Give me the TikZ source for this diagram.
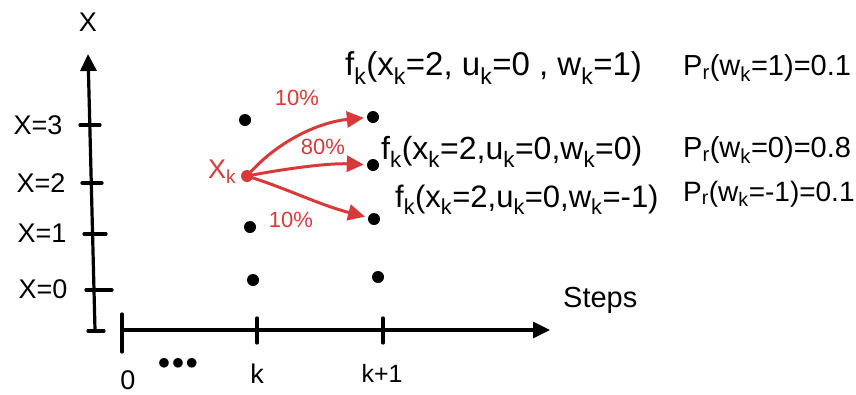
\documentclass[tikz,border=0pt]{standalone}
\usepackage{fontspec}
\setmainfont{Liberation Sans}
\usetikzlibrary{arrows.meta}
\definecolor{hred}{HTML}{D83A3A}
\tikzset{
  pen/.style={line width=3.2pt, line cap=round, black},
  redpen/.style={line width=3pt, line cap=round, hred},
  dotnode/.style={circle, fill=black, inner sep=0pt, minimum size=12pt},
  lbl/.style={font=\fontsize{27}{30}\selectfont, inner sep=1pt},
  pct/.style={font=\fontsize{22}{24}\selectfont, inner sep=1pt, text=hred},
  formula/.style={font=\fontsize{31}{34}\selectfont, inner sep=1pt, anchor=west},
  prob/.style={font=\fontsize{29}{32}\selectfont, inner sep=1pt, anchor=west},
  axtip/.style={-{Triangle[length=17pt,width=16pt]}},
  redtip/.style={-{Triangle[length=17pt,width=16pt]}}
}
\newcommand{\sbk}{\textsubscript{k}}
\begin{document}
\begin{tikzpicture}[x=1pt,y=-1pt]
\useasboundingbox (0,0) rectangle (856,394);
% axes
\coordinate (yb) at (95,330);
\coordinate (yt) at (88,54);
\coordinate (xl) at (122,330);
\coordinate (xr) at (550,330);
\draw[pen, axtip] (yb) -- (yt);
\draw[pen, axtip] (xl) -- (xr);
\node[lbl] (xlab) at (88,22) {X};
\node[lbl, font=\fontsize{29}{32}\selectfont, anchor=west] (steps) at (562,300) {Steps};
% y ticks
\coordinate (t3a) at (80,125); \coordinate (t3b) at (100,125);
\coordinate (t2a) at (82,183); \coordinate (t2b) at (102,183);
\coordinate (t1a) at (84,234); \coordinate (t1b) at (106,234);
\coordinate (t0a) at (86,290); \coordinate (t0b) at (112,290);
\coordinate (tba) at (88,331); \coordinate (tbb) at (104,331);
\draw[pen] (t3a) -- (t3b);
\draw[pen] (t2a) -- (t2b);
\draw[pen] (t1a) -- (t1b);
\draw[pen] (t0a) -- (t0b);
\draw[pen] (tba) -- (tbb);
\node[lbl] (l3) at (38,125) {X=3};
\node[lbl] (l2) at (41,183) {X=2};
\node[lbl] (l1) at (42,233) {X=1};
\node[lbl] (l0) at (43,289) {X=0};
% x ticks
\coordinate (x0a) at (122,314); \coordinate (x0b) at (122,352);
\coordinate (xka) at (257,318); \coordinate (xkb) at (257,343);
\coordinate (xk1a) at (383,318); \coordinate (xk1b) at (383,343);
\draw[pen] (x0a) -- (x0b);
\draw[pen] (xka) -- (xkb);
\draw[pen] (xk1a) -- (xk1b);
\node[lbl] (n0) at (128,380) {0};
\node[lbl] (ndots) at (178,364) {$\bullet\!\bullet\!\bullet$};
\node[lbl] (nk) at (257,374) {k};
\node[lbl, font=\fontsize{25}{28}\selectfont] (nk1) at (382,373) {k+1};
% dots column k
\node[dotnode] (a3) at (245,120) {};
\node[dotnode, fill=hred] (a2) at (247,176) {};
\node[dotnode] (a1) at (250,227) {};
\node[dotnode] (a0) at (253,280) {};
% dots column k+1
\node[dotnode] (b3) at (373,117) {};
\node[dotnode] (b2) at (373,165) {};
\node[dotnode] (b1) at (374,219) {};
\node[dotnode] (b0) at (378,277) {};
% red arrows
\node[lbl, text=hred] (xk) at (222,172) {X\sbk};
\draw[redpen, redtip, shorten >=3pt] (a2) .. controls (280,140) and (320,122) .. (b3);
\draw[redpen, redtip, shorten >=3pt] (a2) .. controls (290,168) and (330,163) .. (b2);
\draw[redpen, redtip, shorten >=3pt] (a2) .. controls (290,190) and (320,205) .. (b1);
\node[pct] (p1) at (297,98) {10\%};
\node[pct] (p2) at (323,147) {80\%};
\node[pct] (p3) at (291,220) {10\%};
% formulas
\node[formula, font=\fontsize{33}{36}\selectfont] (f1) at (344,68) {f\sbk(x\sbk=2,\ u\sbk=0\ ,\ w\sbk=1)};
\node[formula, font=\fontsize{32}{36}\selectfont] (f2) at (380,152) {f\sbk(x\sbk=2,u\sbk=0,w\sbk=0)};
\node[formula] (f3) at (394,200) {f\sbk(x\sbk=2,u\sbk=0,w\sbk=-1)};
\node[prob] (q1) at (682,68) {P\textsubscript{r}(w\sbk=1)=0.1};
\node[prob] (q2) at (682,150) {P\textsubscript{r}(w\sbk=0)=0.8};
\node[prob, font=\fontsize{28}{32}\selectfont] (q3) at (682,194) {P\textsubscript{r}(w\sbk=-1)=0.1};
\end{tikzpicture}
\end{document}
